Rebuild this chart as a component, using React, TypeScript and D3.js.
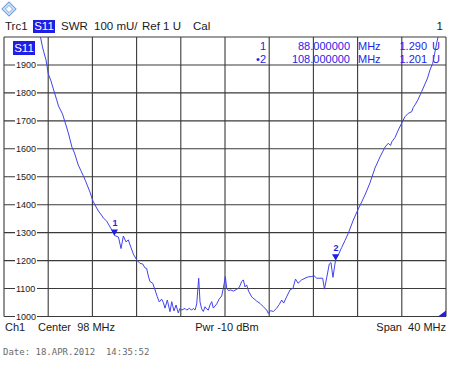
import React from "react";
import * as d3 from "d3";

// Trace data: frequency (MHz) and SWR (mU)
const FREQ = [81.2, 81.3, 81.5, 81.8, 82.01, 82.25, 82.52, 82.77, 82.93, 83.11, 83.29, 83.52, 83.82, 84.15, 84.38, 84.72, 84.97, 85.18, 85.38, 85.56, 85.78, 86.05, 86.33, 86.6, 86.82, 87.0, 87.28, 87.5, 87.75, 88.0, 88.36, 88.59, 88.8, 89.04, 89.25, 89.47, 89.7, 90.01, 90.31, 90.55, 90.76, 90.91, 91.06, 91.21, 91.46, 91.67, 91.87, 92.05, 92.27, 92.42, 92.57, 92.78, 93.02, 93.18, 93.38, 93.57, 93.77, 93.93, 94.08, 94.38, 94.53, 94.77, 94.99, 95.13, 95.29, 95.44, 95.62, 95.74, 95.89, 96.04, 96.19, 96.34, 96.49, 96.64, 96.8, 96.94, 97.25, 97.48, 97.7, 97.85, 98.03, 98.15, 98.3, 98.52, 98.75, 99.06, 99.29, 99.51, 99.66, 99.81, 99.96, 100.13, 100.42, 100.87, 101.17, 101.47, 101.77, 101.92, 102.12, 102.37, 102.68, 102.91, 103.13, 103.31, 103.57, 103.88, 104.15, 104.38, 104.61, 104.94, 105.24, 105.54, 105.85, 106.05, 106.3, 106.84, 107.0, 107.2, 107.44, 107.59, 107.77, 108.0, 108.25, 108.56, 108.86, 109.16, 109.61, 110.06, 110.37, 110.67, 111.12, 111.57, 112.03, 112.48, 112.78, 112.98, 113.11, 113.38, 113.68, 113.99, 114.29, 114.59, 114.9, 115.04, 115.24, 115.49, 115.8, 116.1, 116.33, 116.55, 116.8, 117.0, 117.16, 117.3, 117.4];
const SWR = [2030, 2000, 1961, 1918, 1868, 1843, 1807, 1775, 1753, 1739, 1725, 1696, 1657, 1606, 1585, 1542, 1521, 1503, 1485, 1467, 1445, 1413, 1392, 1374, 1363, 1352, 1342, 1327, 1310, 1290, 1284, 1243, 1288, 1267, 1274, 1249, 1224, 1202, 1190, 1188, 1174, 1172, 1145, 1125, 1119, 1095, 1071, 1052, 1062, 1050, 1030, 1059, 1017, 1053, 1020, 1041, 1013, 1029, 1023, 1029, 1023, 1029, 1023, 1029, 1023, 1045, 1137, 1052, 1027, 1018, 1035, 1027, 1023, 1041, 1053, 1030, 1045, 1063, 1073, 1101, 1143, 1102, 1093, 1095, 1091, 1097, 1104, 1125, 1131, 1106, 1113, 1091, 1070, 1055, 1047, 1035, 1023, 1011, 1021, 1018, 1030, 1043, 1059, 1048, 1070, 1095, 1101, 1134, 1119, 1131, 1137, 1142, 1143, 1146, 1137, 1137, 1098, 1138, 1188, 1193, 1140, 1201, 1220, 1247, 1272, 1298, 1345, 1385, 1410, 1435, 1478, 1531, 1571, 1606, 1620, 1612, 1626, 1640, 1667, 1692, 1715, 1727, 1733, 1748, 1760, 1778, 1805, 1832, 1853, 1882, 1906, 1946, 1979, 2003, 2030];

const Y_TICKS = [1000, 1100, 1200, 1300, 1400, 1500, 1600, 1700, 1800, 1900];
const X_GRID = [78, 82, 86, 90, 94, 98, 102, 106, 110, 114, 118];
const Y_GRID = [1000, 1100, 1200, 1300, 1400, 1500, 1600, 1700, 1800, 1900, 2000];

const MARKER_FREQ = [88, 108];
const MARKER_VAL = [1290, 1201];
const MARKER_LABEL = ["1", "2"];
const MARKER_ROW_ID = ["1", "\u20222"];
const MARKER_ROW_FREQ = ["88.000000", "108.000000"];
const MARKER_ROW_VAL = ["1.290", "1.201"];

const HEADER = ["Trc1", "S11", "SWR", "100 mU/", "Ref 1 U", "Cal"];
const FOOTER = ["Ch1", "Center  98 MHz", "Pwr -10 dBm", "Span  40 MHz"];
const DATE_TEXT = "Date: 18.APR.2012  14:35:52";

const FONT = "'Liberation Sans', Arial, sans-serif";
const TRACE = "#4242ec";
const BLUE = "#1e1ee6";
const GRID = "#3a3a3a";
const TXT = "#1a1a1a";

export default function App() {
  const left = 4, right = 446, top = 37, bottom = 316.5;
  const x = d3.scaleLinear().domain([78, 118]).range([left, right]);
  const y = d3.scaleLinear().domain([1000, 2000]).range([bottom, top]);
  const pts: [number, number][] = FREQ.map((f, i) => [f, SWR[i]]);
  const line = d3.line<[number, number]>().x(d => x(d[0])).y(d => y(d[1]));

  return (
    <svg width={450} height={370} style={{ position: "fixed", left: 0, top: 0, background: "#fff" }} fontFamily={FONT}>
      <defs>
        <clipPath id="plotclip">
          <rect x={left} y={top} width={right - left} height={bottom - top} />
        </clipPath>
      </defs>
      <rect x={0} y={0} width={450} height={370} fill="#fff" />
      {/* logo */}
      <g transform="translate(9,9) rotate(45)">
        <rect x={-5} y={-5} width={10} height={10} fill="#cfe0f6" stroke="#6f9fdc" strokeWidth={1} />
        <rect x={-2.5} y={-2.5} width={5} height={5} fill="#fff" stroke="#6f9fdc" strokeWidth={0.8} />
      </g>
      {/* header */}
      <text x={5} y={30} fontSize={11.5} fill={TXT}>{HEADER[0]}</text>
      <rect x={33} y={20} width={22} height={13} fill={BLUE} />
      <text x={44} y={30} fontSize={11.5} fill="#fff" textAnchor="middle">{HEADER[1]}</text>
      <text x={61} y={30} fontSize={11.5} fill={TXT}>{HEADER[2]}</text>
      <text x={94} y={30} fontSize={11.5} fill={TXT}>{HEADER[3]}</text>
      <text x={142} y={30} fontSize={11.5} fill={TXT}>{HEADER[4]}</text>
      <text x={193} y={30} fontSize={11.5} fill={TXT}>{HEADER[5]}</text>
      <text x={443} y={30} fontSize={11.5} fill={TXT} textAnchor="end">1</text>

      {/* grid */}
      {X_GRID.map(f => (
        <line key={"vx" + f} x1={x(f)} x2={x(f)} y1={top} y2={bottom} stroke={GRID} strokeWidth={1.1} />
      ))}
      {Y_GRID.map(v => (
        <line key={"hy" + v} x1={left} x2={right} y1={y(v)} y2={y(v)} stroke={GRID} strokeWidth={1.1} />
      ))}
      {/* y labels */}
      {Y_TICKS.map(v => (
        <g key={"yl" + v}>
          <rect x={15} y={y(v) - 4} width={22} height={8} fill="#fff" />
          <text x={16} y={y(v) + 3.3} fontSize={9} fill={TXT}>{v}</text>
        </g>
      ))}

      {/* S11 label in plot */}
      <rect x={13} y={41} width={22} height={14} fill={BLUE} />
      <text x={24} y={52} fontSize={11.5} fill="#fff" textAnchor="middle">{HEADER[1]}</text>

      {/* marker table */}
      {MARKER_ROW_ID.map((id, i) => {
        const by = 50 + i * 13;
        return (
          <g key={"row" + i} fontSize={11} fill={BLUE}>
            <text x={266} y={by} textAnchor="end">{id}</text>
            <text x={350} y={by} textAnchor="end">{MARKER_ROW_FREQ[i]}</text>
            <text x={358} y={by}>MHz</text>
            <text x={427} y={by} textAnchor="end">{MARKER_ROW_VAL[i]}</text>
            <text x={432} y={by}>U</text>
          </g>
        );
      })}

      {/* trace */}
      <path d={line(pts) || ""} fill="none" stroke={TRACE} strokeWidth={1} clipPath="url(#plotclip)" />

      {/* markers */}
      {MARKER_FREQ.map((f, i) => {
        const mx = x(f), my = y(MARKER_VAL[i]);
        return (
          <g key={"mk" + i}>
            <path d={`M${mx - 3.5},${my - 6} L${mx + 3.5},${my - 6} L${mx},${my} Z`} fill={BLUE} />
            <text x={mx + 0.5} y={my - 9} fontSize={9} fontWeight="bold" fill={BLUE} textAnchor="middle">{MARKER_LABEL[i]}</text>
          </g>
        );
      })}

      {/* corner indicator */}
      <path d={`M${right},${bottom - 6} L${right},${bottom} L${right - 8},${bottom} Z`} fill={BLUE} />

      {/* footer */}
      <text x={5} y={331} fontSize={11} fill={TXT}>{FOOTER[0]}</text>
      <text x={38} y={331} fontSize={11} fill={TXT} style={{ whiteSpace: "pre" }}>{FOOTER[1]}</text>
      <text x={227} y={331} fontSize={11} fill={TXT} textAnchor="middle">{FOOTER[2]}</text>
      <text x={446} y={331} fontSize={11} fill={TXT} textAnchor="end" style={{ whiteSpace: "pre" }}>{FOOTER[3]}</text>

      <text x={3} y={355} fontSize={9} fill="#6a6a6a" fontFamily="'DejaVu Sans Mono', 'Liberation Mono', monospace" style={{ whiteSpace: "pre" }}>{DATE_TEXT}</text>
    </svg>
  );
}
